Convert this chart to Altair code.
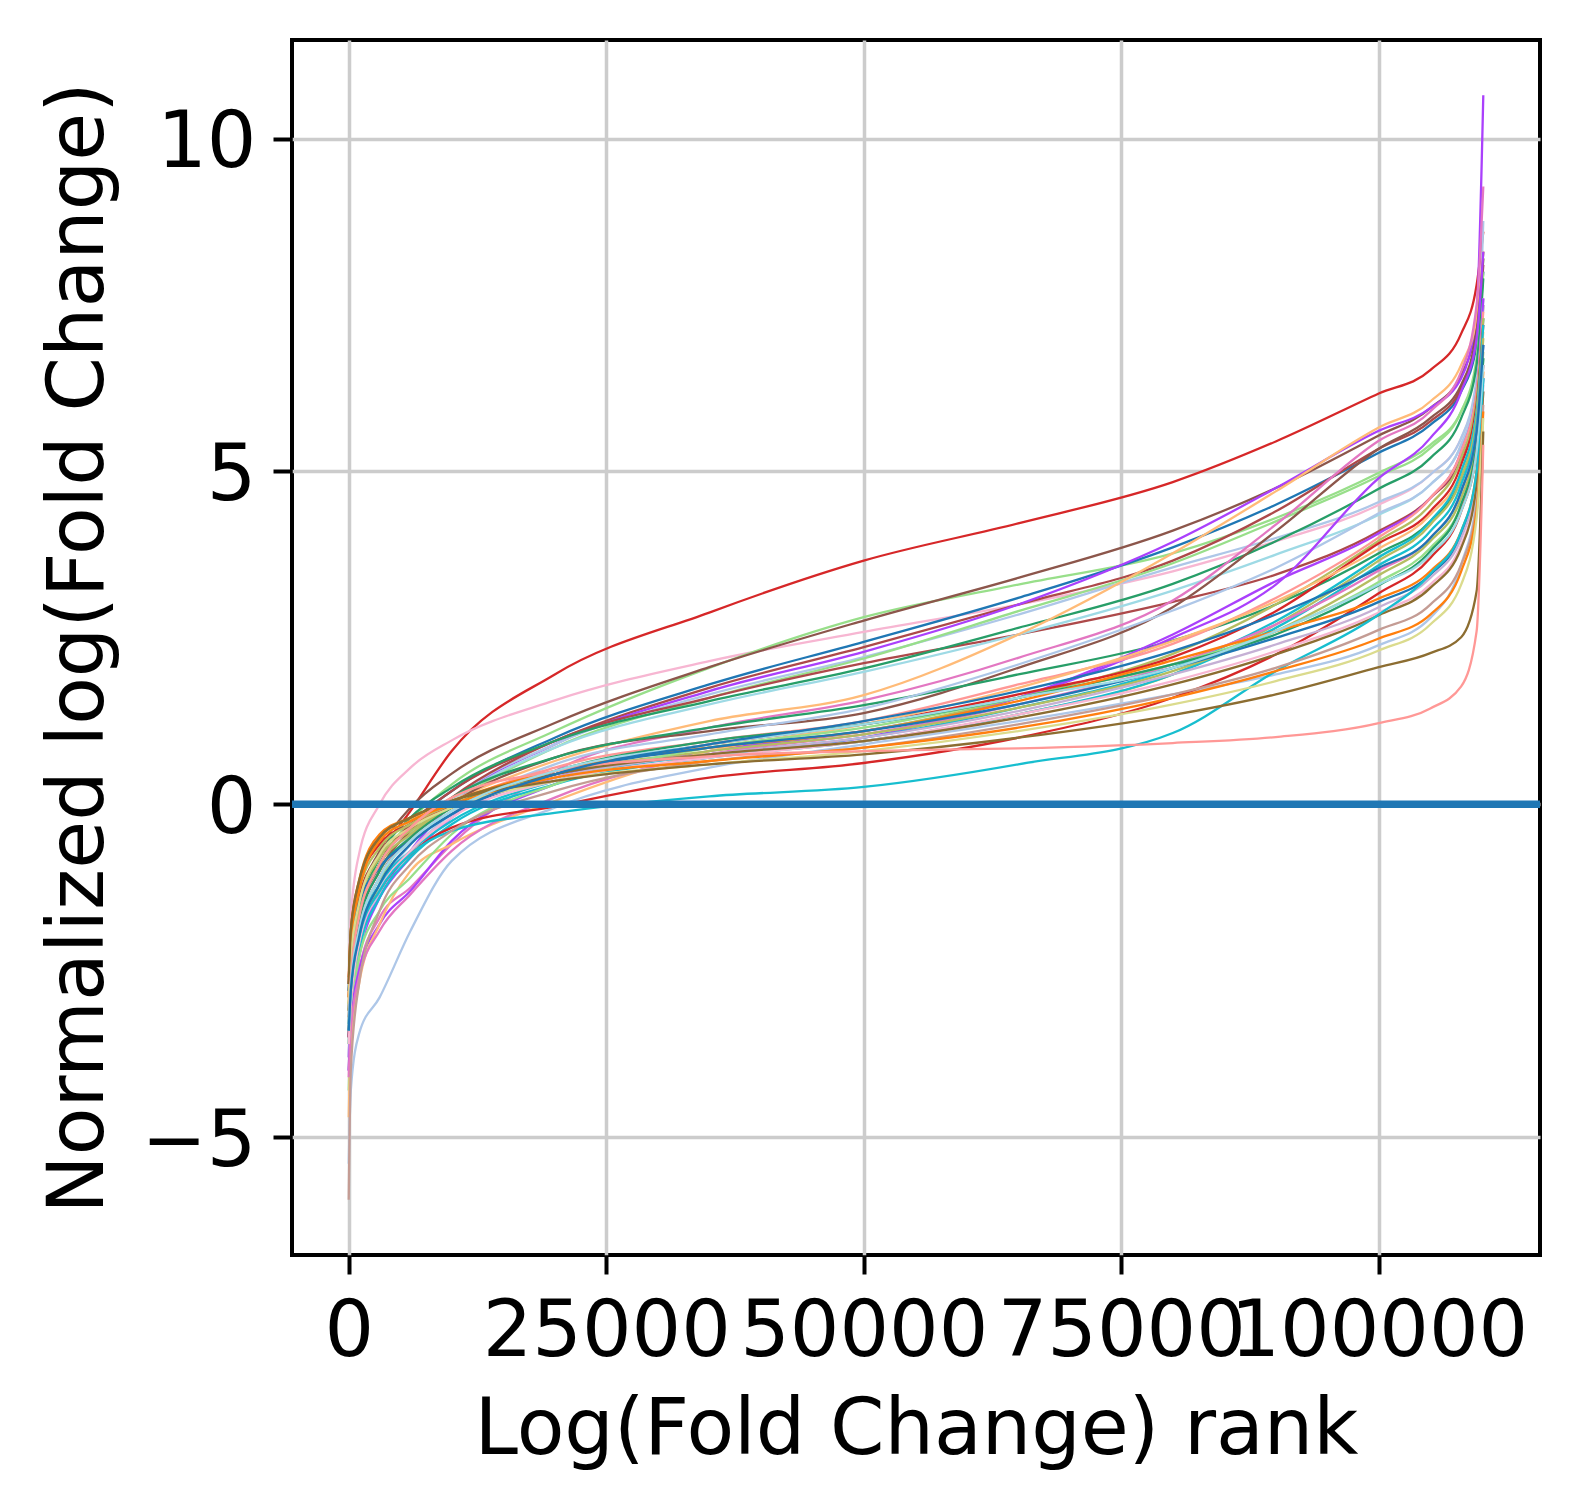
import altair as alt
import pandas as pd

# Rank positions at which every curve is sampled
ranks = [0, 200, 1000, 3000, 6000, 10000, 20000, 35000, 50000, 65000,
         80000, 90000, 100000, 105000, 108000, 109500, 110147]

# Axis ticks
x_ticks = [0, 25000, 50000, 75000, 100000]
y_ticks = [-5, 0, 5, 10]

# Normalized log fold change per group, at the ranks above
s01 = [-2.9, -2.2, -1.4, -0.75, -0.1, 0.8, 1.95, 2.88, 3.66, 4.22, 4.84, 5.45, 6.17, 6.52, 7.07, 7.8, 8.6]
s02 = [-2.6, -1.7, -0.75, 0.0, 0.55, 0.96, 1.56, 2.15, 2.59, 3.0, 3.5, 3.95, 4.5, 4.95, 5.5, 6.3, 7.6]
s03 = [-3.4, -2.6, -1.7, -0.9, -0.25, 0.3, 1.1, 2.05, 2.81, 3.3, 3.77, 4.3, 4.98, 5.4, 5.9, 6.6, 8.2]
s04 = [-3.1, -2.4, -1.5, -0.7, -0.05, 0.46, 1.22, 2.06, 2.76, 3.4, 4.11, 4.75, 5.54, 5.95, 6.45, 7.2, 8.3]
s05 = [-2.8, -2.2, -1.6, -0.9, -0.3, 0.2, 1.0, 1.8, 2.44, 3.1, 3.86, 4.5, 5.28, 5.7, 6.2, 6.9, 8.0]
s06 = [-3.5, -2.8, -1.8, -0.9, -0.3, 0.2, 0.95, 1.75, 2.36, 3.0, 3.66, 4.4, 5.34, 5.75, 6.25, 7.0, 8.1]
s07 = [-3.8, -3.1, -2.3, -1.4, -0.7, 0.0, 0.9, 1.7, 2.29, 3.0, 3.94, 4.75, 5.61, 5.95, 6.4, 7.4, 10.65]
s08 = [-4.0, -3.3, -2.3, -1.3, -0.6, 0.05, 0.9, 1.65, 2.21, 2.85, 3.56, 4.0, 4.54, 4.95, 5.5, 6.4, 8.76]
s09 = [-4.3, -3.4, -2.3, -1.2, -0.5, 0.0, 0.85, 1.6, 2.19, 2.9, 3.62, 4.25, 4.93, 5.35, 5.9, 6.7, 8.0]
s10 = [-3.4, -2.7, -1.8, -1.0, -0.4, 0.1, 0.95, 1.6, 2.12, 2.55, 3.04, 3.45, 4.1, 4.6, 5.2, 6.0, 7.5]
s11 = [-3.5, -2.7, -1.7, -0.8, -0.2, 0.25, 0.95, 1.55, 2.04, 2.65, 3.31, 3.95, 4.74, 5.2, 5.8, 6.6, 7.9]
s12 = [-3.5, -2.8, -1.9, -1.1, -0.45, 0.05, 0.85, 1.5, 1.99, 2.55, 3.21, 3.75, 4.35, 4.8, 5.4, 6.2, 7.5]
s13 = [-3.0, -2.2, -1.2, -0.55, -0.25, 0.05, 0.65, 1.25, 1.64, 2.55, 3.77, 4.7, 5.66, 6.05, 6.6, 7.3, 8.3]
s14 = [-4.0, -3.3, -2.5, -1.7, -1.25, -0.6, 0.5, 1.15, 1.56, 2.2, 3.06, 4.2, 5.46, 5.9, 6.5, 7.5, 9.28]
s15 = [-3.3, -2.7, -1.9, -1.1, -0.5, 0.0, 0.7, 1.1, 1.37, 2.05, 2.96, 4.1, 5.34, 5.8, 6.3, 7.1, 8.2]
s16 = [-3.1, -2.5, -1.7, -0.9, -0.35, 0.1, 0.7, 1.15, 1.49, 1.95, 2.46, 3.0, 3.77, 4.25, 4.9, 5.8, 7.3]
s17 = [-5.4, -4.3, -3.45, -2.9, -1.9, -0.85, -0.05, 0.55, 0.9, 1.25, 1.65, 1.95, 2.39, 2.8, 3.6, 4.6, 6.4]
s18 = [-3.8, -3.1, -2.2, -1.35, -0.7, -0.15, 0.6, 1.05, 1.44, 2.1, 2.91, 3.55, 4.37, 4.8, 5.4, 6.2, 7.6]
s19 = [-4.0, -3.3, -2.5, -1.8, -1.3, -0.55, 0.3, 0.8, 1.1, 1.6, 2.5, 3.3, 4.9, 5.5, 6.2, 7.0, 8.3]
s20 = [-3.5, -2.9, -2.1, -1.4, -0.8, -0.2, 0.4, 0.75, 1.0, 1.6, 2.55, 3.35, 4.07, 4.6, 5.3, 6.2, 7.6]
s21 = [-3.1, -2.5, -1.7, -1.0, -0.5, -0.05, 0.55, 0.95, 1.25, 1.8, 2.41, 3.1, 4.01, 4.6, 5.3, 6.2, 7.4]
s22 = [-3.1, -2.4, -1.5, -0.8, -0.4, -0.05, 0.5, 0.85, 1.1, 1.6, 2.26, 3.0, 3.96, 4.5, 5.2, 6.1, 7.3]
s23 = [-2.7, -2.0, -1.2, -0.6, -0.3, -0.05, 0.45, 0.9, 1.2, 1.65, 2.21, 2.9, 3.92, 4.4, 5.1, 6.0, 7.2]
s24 = [-4.7, -3.6, -2.7, -1.8, -1.0, -0.6, 0.05, 0.8, 1.2, 1.75, 2.45, 3.05, 3.84, 4.35, 5.0, 5.9, 7.1]
s25 = [-3.3, -2.7, -1.9, -1.2, -0.7, -0.25, 0.35, 0.75, 1.0, 1.45, 2.05, 2.75, 3.71, 4.25, 5.0, 5.9, 7.2]
s26 = [-2.9, -2.2, -1.3, -0.65, -0.3, 0.0, 0.45, 0.75, 0.95, 1.35, 1.95, 2.7, 3.66, 4.2, 4.9, 5.8, 7.0]
s27 = [-3.6, -3.0, -2.2, -1.4, -0.8, -0.3, 0.3, 0.7, 0.95, 1.35, 1.95, 2.65, 3.59, 4.1, 4.8, 5.7, 6.9]
s28 = [-4.1, -3.4, -2.6, -1.9, -1.35, -0.7, 0.1, 0.75, 1.05, 1.5, 2.1, 2.7, 3.51, 4.0, 4.7, 5.6, 6.9]
s29 = [-3.0, -2.4, -1.6, -0.9, -0.45, -0.05, 0.45, 0.8, 1.05, 1.45, 2.0, 2.6, 3.44, 3.95, 4.6, 5.5, 6.8]
s30 = [-3.6, -3.0, -2.3, -1.6, -1.1, -0.45, 0.3, 0.85, 1.15, 1.6, 2.1, 2.6, 3.34, 3.85, 4.5, 5.4, 6.7]
s31 = [-3.2, -2.6, -1.8, -1.0, -0.5, -0.05, 0.5, 0.95, 1.2, 1.6, 2.1, 2.55, 3.29, 3.8, 4.5, 5.4, 6.7]
s32 = [-3.5, -2.9, -2.0, -1.3, -0.75, -0.35, -0.03, 0.4, 0.62, 1.0, 1.6, 2.25, 3.17, 3.7, 4.4, 5.3, 6.6]
s33 = [-2.6, -1.9, -1.15, -0.45, -0.2, 0.05, 0.5, 0.85, 1.1, 1.55, 2.16, 2.6, 3.09, 3.5, 4.1, 5.0, 6.5]
s34 = [-2.8, -2.2, -1.5, -0.95, -0.55, -0.15, 0.45, 0.85, 1.1, 1.5, 2.05, 2.5, 3.04, 3.45, 4.05, 4.9, 6.4]
s35 = [-3.4, -2.8, -1.9, -1.1, -0.55, -0.1, 0.4, 0.75, 1.0, 1.4, 1.95, 2.4, 2.96, 3.4, 4.0, 4.9, 6.3]
s36 = [-3.6, -3.0, -2.1, -1.3, -0.7, -0.2, 0.35, 0.7, 0.95, 1.35, 1.85, 2.3, 2.88, 3.3, 3.9, 4.8, 6.2]
s37 = [-2.7, -1.9, -1.2, -0.5, -0.2, 0.05, 0.45, 0.75, 0.95, 1.3, 1.8, 2.25, 2.84, 3.25, 3.85, 4.8, 6.2]
s38 = [-3.4, -2.8, -2.0, -1.3, -0.75, -0.4, -0.13, 0.12, 0.26, 0.6, 1.07, 2.0, 2.85, 3.46, 4.1, 5.0, 6.4]
s39 = [-5.94, -4.0, -2.7, -1.6, -0.9, -0.4, 0.2, 0.65, 0.85, 1.2, 1.65, 2.05, 2.62, 3.0, 3.6, 4.5, 6.0]
s40 = [-2.9, -2.1, -1.3, -0.55, -0.25, 0.0, 0.4, 0.65, 0.85, 1.15, 1.6, 2.0, 2.49, 2.85, 3.5, 4.4, 5.9]
s41 = [-3.0, -2.3, -1.5, -0.75, -0.35, -0.05, 0.35, 0.6, 0.8, 1.1, 1.5, 1.85, 2.31, 2.7, 3.3, 4.3, 5.8]
s42 = [-2.7, -1.9, -1.15, -0.5, -0.2, 0.05, 0.35, 0.6, 0.75, 1.0, 1.34, 1.65, 2.06, 2.27, 2.51, 3.2, 5.6]
s43 = [-3.2, -2.6, -1.7, -0.9, -0.35, 0.1, 0.5, 0.72, 0.8, 0.84, 0.92, 1.01, 1.22, 1.44, 1.77, 2.6, 5.4]
s44 = [-3.3, -2.7, -1.9, -1.1, -0.55, -0.1, 0.5, 0.9, 1.2, 1.6, 2.05, 2.6, 3.3, 3.75, 4.4, 5.3, 6.6]
s45 = [-3.4, -2.8, -2.0, -1.2, -0.6, -0.15, 0.45, 0.9, 1.25, 1.7, 2.3, 2.85, 3.55, 4.0, 4.7, 5.6, 6.9]

# Group name, line colour, values
groups = [
    ("s01", "#d62728", s01), ("s02", "#f7b6d2", s02), ("s03", "#98df8a", s03),
    ("s04", "#8c564b", s04), ("s05", "#1f77b4", s05), ("s06", "#ad494a", s06),
    ("s07", "#aa40fc", s07), ("s08", "#aec7e8", s08), ("s09", "#98df8a", s09),
    ("s10", "#ad494a", s10), ("s11", "#279e68", s11), ("s12", "#9edae5", s12),
    ("s13", "#ffbb78", s13), ("s14", "#e377c2", s14), ("s15", "#8c564b", s15),
    ("s16", "#279e68", s16), ("s17", "#aec7e8", s17), ("s18", "#aec7e8", s18),
    ("s19", "#aa40fc", s19), ("s20", "#aa40fc", s20), ("s21", "#ff9896", s21),
    ("s22", "#b5bd61", s22), ("s23", "#d62728", s23), ("s24", "#ffbb78", s24),
    ("s25", "#17becf", s25), ("s26", "#b5bd61", s26), ("s27", "#17becf", s27),
    ("s28", "#e377c2", s28), ("s29", "#b5bd61", s29), ("s30", "#98df8a", s30),
    ("s31", "#279e68", s31), ("s32", "#d62728", s32), ("s33", "#ff7f0e", s33),
    ("s34", "#1f77b4", s34), ("s35", "#c5b0d5", s35), ("s36", "#f7b6d2", s36),
    ("s37", "#8c6d31", s37), ("s38", "#17becf", s38), ("s39", "#c49c94", s39),
    ("s40", "#ff7f0e", s40), ("s41", "#dbdb8d", s41), ("s42", "#8c6d31", s42),
    ("s43", "#ff9896", s43), ("s44", "#9edae5", s44), ("s45", "#1f77b4", s45),
]

rows = []
for name, _, vals in groups:
    for r, v in zip(ranks, vals):
        rows.append({"rank": r, "value": v, "group": name})
df = pd.DataFrame(rows)

names = [g[0] for g in groups]
colors = [g[1] for g in groups]

W, H = 1248, 1215
FONT = "DejaVu Sans"

x_scale = alt.Scale(domain=[-5507, 115653], nice=False, zero=False)
y_scale = alt.Scale(domain=[-6.77, 11.48], nice=False, zero=False)

x_axis = alt.Axis(
    values=x_ticks, format="d", title="Log(Fold Change) rank",
    labelOverlap=False, labelFlush=False, labelBound=False, labelLimit=600,
    labelPadding=19, titleX=W / 2, titleY=198, titleAlign="center",
    titleBaseline="alphabetic",
)
y_axis = alt.Axis(
    values=y_ticks, format="d", title="Normalized log(Fold Change)",
    labelOverlap=False, labelFlush=False, labelBound=False, labelLimit=600,
    labelPadding=17, labelOffset=5, titleAngle=270, titleX=-190, titleY=H / 2,
    titleAlign="center", titleBaseline="alphabetic",
)

lines = alt.Chart(df).mark_line(strokeWidth=2.3, interpolate="monotone").encode(
    x=alt.X("rank:Q", scale=x_scale, axis=x_axis),
    y=alt.Y("value:Q", scale=y_scale, axis=y_axis),
    color=alt.Color("group:N", scale=alt.Scale(domain=names, range=colors), legend=None),
)

zero_line = alt.Chart(pd.DataFrame({"y": [0]})).mark_rule(
    color="#1f77b4", strokeWidth=7.5
).encode(y=alt.Y("y:Q", scale=y_scale))

chart = (
    alt.layer(lines, zero_line)
    .properties(
        width=W, height=H,
        autosize=alt.AutoSizeParams(type="none"),
        padding={"left": 292, "top": 40, "right": 39, "bottom": 254},
        background="white",
    )
    .configure_view(stroke="black", strokeWidth=4)
    .configure_axis(
        domain=False, grid=True, gridColor="#cccccc", gridWidth=3.5,
        tickColor="black", tickWidth=4, tickSize=19,
        labelFont=FONT, labelFontSize=78, labelColor="black",
        titleFont=FONT, titleFontSize=78, titleColor="black", titleFontWeight="normal",
    )
)

chart.save("out.html", embed_options={"renderer": "svg", "actions": False})
